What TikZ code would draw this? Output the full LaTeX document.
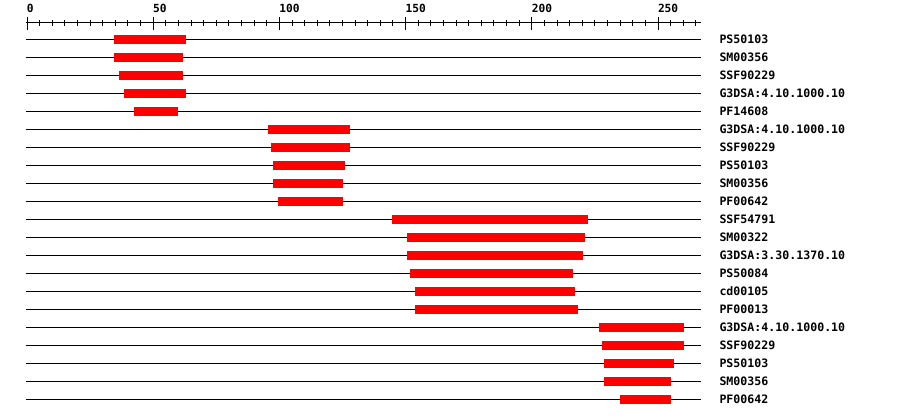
\documentclass[tikz,border=0pt]{standalone}
\usepackage{fontspec}
\setmonofont{DejaVu Sans Mono}
\begin{document}
\begin{tikzpicture}[x=1pt,y=-1pt,line width=1pt,
  axisnum/.style={anchor=base west,inner sep=0pt,font=\ttfamily\bfseries\fontsize{11.2}{12}\selectfont},
  rowlabel/.style={anchor=base west,inner sep=0pt,font=\ttfamily\bfseries\fontsize{11.6}{12}\selectfont},
  rowline/.style={draw=black,line width=1pt},
  hitbar/.style={fill={rgb,255:red,255;green,0;blue,0}}]
\useasboundingbox (0,0) rectangle (900,418);
% axis
\coordinate (axL) at (26,22);
\coordinate (axR) at (701,22);
\draw (axL) -- (axR);
\foreach \v in {0,5,...,265}{
  \draw ({27+2.524*\v},19.5) -- ({27+2.524*\v},25.5);
}
\foreach \v in {0,50,...,250}{
  \draw ({27+2.524*\v},16.5) -- ({27+2.524*\v},29.5);
  \node[axisnum] (n\v) at ({26.5+2.524*\v},12) {\v};
}
% rows
\foreach \i/\s/\e/\lab in {
  1/114/186/PS50103,
  2/114/183/SM00356,
  3/119/183/SSF90229,
  4/124/186/G3DSA:4.10.1000.10,
  5/134/178/PF14608,
  6/268/350/G3DSA:4.10.1000.10,
  7/271/350/SSF90229,
  8/273/345/PS50103,
  9/273/343/SM00356,
  10/278/343/PF00642,
  11/392/588/SSF54791,
  12/407/585/SM00322,
  13/407/583/G3DSA:3.30.1370.10,
  14/410/573/PS50084,
  15/415/575/cd00105,
  16/415/578/PF00013,
  17/599/684/G3DSA:4.10.1000.10,
  18/602/684/SSF90229,
  19/604/674/PS50103,
  20/604/671/SM00356,
  21/620/671/PF00642}{
  \pgfmathsetmacro{\yy}{39+18*(\i-1)}
  \coordinate (l\i) at (26,\yy);
  \coordinate (r\i) at (701,\yy);
  \draw[rowline] (l\i) -- (r\i);
  \fill[hitbar] (\s,\yy-4.5) rectangle (\e,\yy+4.5);
  \node[rowlabel] (lab\i) at (719,\yy+4) {\lab};
}
\end{tikzpicture}
\end{document}
